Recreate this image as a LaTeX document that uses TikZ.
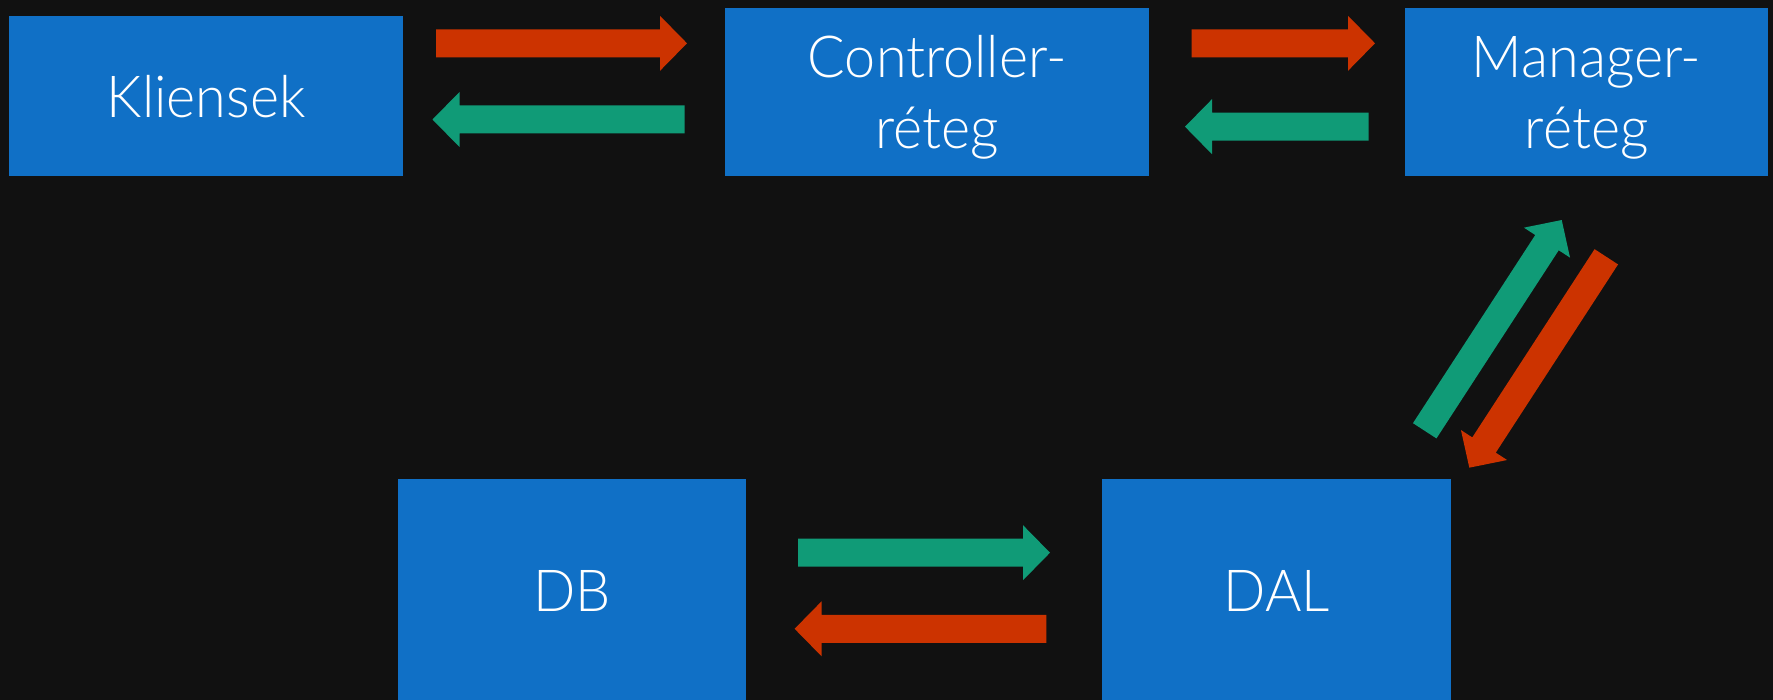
\documentclass[tikz,border=0pt]{standalone}
\usepackage{fontspec}
\setmainfont{Lato Light}[FakeStretch=0.96]
\usetikzlibrary{calc}

\definecolor{bg}{HTML}{111111}
\definecolor{boxblue}{HTML}{1070C6}
\definecolor{reqred}{HTML}{CC3300}
\definecolor{respgreen}{HTML}{109B77}

% Block arrow from a tail coordinate to a tip coordinate
\newcommand\blockarrow[3]{%
  \pgfpointdiff{\pgfpointanchor{#1}{center}}{\pgfpointanchor{#2}{center}}%
  \pgfgetlastxy{\arrdx}{\arrdy}%
  \pgfmathsetmacro\arrlen{veclen(\arrdx,\arrdy)}%
  \pgfmathsetmacro\arrang{atan2(\arrdy,\arrdx)}%
  \fill[#3, shift={(#1)}, rotate=\arrang]
    (0pt,14pt) -- (\arrlen pt-27pt,14pt) -- (\arrlen pt-27pt,27.5pt)
    -- (\arrlen pt,0pt) -- (\arrlen pt-27pt,-27.5pt) -- (\arrlen pt-27pt,-14pt)
    -- (0pt,-14pt) -- cycle;%
}

\begin{document}
\begin{tikzpicture}[x=1pt, y=-1pt,
  box/.style={fill=boxblue, inner sep=0pt, anchor=north west, text=white,
    align=center, font=\fontsize{58}{70.7}\selectfont},
  twoline/.style={text depth=0pt},
  req/.style={fill=reqred},
  resp/.style={fill=respgreen}]

\fill[bg] (0,0) rectangle (1773,700);
\useasboundingbox (0,0) rectangle (1773,700);

% layers
\node[box, minimum width=394pt, minimum height=160pt] (kl) at (9,16) {Kliensek};
\node[box, twoline, minimum width=424pt, minimum height=168pt] (ctrl) at (725,8) {Controller-\\réteg};
\node[box, twoline, minimum width=363pt, minimum height=168pt] (mgr) at (1405,8) {Manager-\\réteg};
\node[box, minimum width=348pt, minimum height=224pt] (db) at (398,479) {DB};
\node[box, minimum width=349pt, minimum height=224pt] (dal) at (1102,479) {DAL};

% arrow ends
\coordinate (kc-a) at (436,43.3);    \coordinate (kc-b) at (687,43.3);
\coordinate (ck-a) at (684.6,119.5); \coordinate (ck-b) at (432.5,119.5);
\coordinate (cm-a) at (1191.7,43.3); \coordinate (cm-b) at (1375,43.3);
\coordinate (mc-a) at (1368.5,126.7);\coordinate (mc-b) at (1185,126.7);
\coordinate (md-a) at (1606.3,256.8);\coordinate (md-b) at (1469.3,467.7);
\coordinate (dm-a) at (1424.7,430.8);\coordinate (dm-b) at (1561.7,220);
\coordinate (bd-a) at (798,552.7);   \coordinate (bd-b) at (1050,552.7);
\coordinate (db-a) at (1046.4,628.8);\coordinate (db-b) at (794.6,628.8);

\blockarrow{kc-a}{kc-b}{req}
\blockarrow{ck-a}{ck-b}{resp}
\blockarrow{cm-a}{cm-b}{req}
\blockarrow{mc-a}{mc-b}{resp}
\blockarrow{md-a}{md-b}{req}
\blockarrow{dm-a}{dm-b}{resp}
\blockarrow{bd-a}{bd-b}{resp}
\blockarrow{db-a}{db-b}{req}
\end{tikzpicture}
\end{document}
